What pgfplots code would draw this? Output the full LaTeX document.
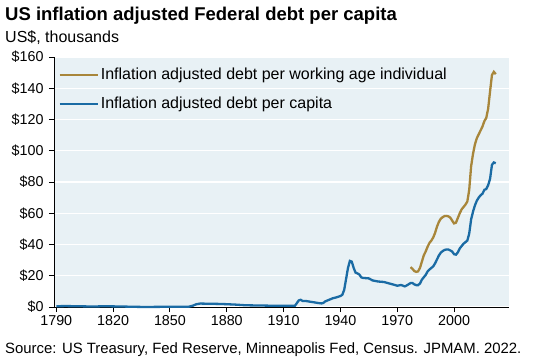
\documentclass[border=0pt]{standalone}
\usepackage{fontspec}
\setmainfont{Liberation Sans}
\usepackage{pgfplots}
\pgfplotsset{compat=1.18}
\definecolor{bgc}{HTML}{E8F1F5}
\definecolor{gold}{HTML}{A8863A}
\definecolor{blu}{HTML}{1A6BA4}
\begin{document}
\begin{tikzpicture}[x=1pt,y=1pt]
\begin{axis}[
  at={(0,0)}, anchor=origin,
  scale only axis, width=455pt, height=250pt,
  xmin=1788.8, xmax=2029, ymin=0, ymax=160,
  axis x line*=bottom, axis y line*=left,
  axis line style={black, line width=0.9pt},
  axis background/.style={fill=bgc},
  xtick={1790,1820,...,2000},
  ytick={0,20,...,160},
  yticklabel={\$\pgfmathprintnumber{\tick}},
  x tick label style={/pgf/number format/1000 sep={}},
  y tick label style={xshift=-2pt},
  /pgf/number format/assume math mode=true,
  tick label style={font=\fontsize{14.3}{16}\selectfont, text=black},
  tick align=outside, major tick length=5pt,
  tick style={black, line width=0.9pt},
  xtick pos=bottom, ytick pos=left,
  ymajorgrids, grid style={white, line width=1.2pt},
  clip=false,
  legend style={at={(0.003,0.972)}, anchor=north west, draw=none, fill=none,
    font=\fontsize{16}{18}\selectfont, row sep=12pt},
  legend cell align=left,
  legend image code/.code={\draw[#1] (0pt,0pt) -- (38pt,0pt);},
]
\addplot[gold, line width=2.3pt] coordinates {
(1977,25.5)(1978,24.5)(1979,23)(1980,22.5)(1981,22.8)(1982,25)(1983,29)(1984,33)
(1985,35.5)(1986,38.5)(1987,41)(1988,42.5)(1989,44.5)(1990,47.5)(1991,51.5)(1992,54.5)
(1993,56.5)(1994,57.5)(1995,58.2)(1996,58.3)(1997,58.0)(1998,57.2)(1999,55.3)(2000,53.5)
(2001,54)(2002,57)(2003,60)(2004,62.5)(2005,64)(2006,65.5)(2007,67.5)(2008,75)
(2009,90)(2010,98)(2011,104)(2012,108)(2013,110.5)(2014,113)(2015,115.5)(2016,119)
(2017,121)(2018,127)(2019,138)(2020,148.5)(2021,150.5)(2022,149)
};
\addlegendentry{Inflation adjusted debt per working age individual}
\addplot[blu, line width=2.3pt] coordinates {
(1790,0.5)(1795,0.6)(1800,0.5)(1805,0.4)(1810,0.3)(1815,0.5)(1820,0.4)(1825,0.3)
(1830,0.15)(1835,0.05)(1840,0.05)(1845,0.1)(1850,0.15)(1855,0.1)(1860,0.2)(1862,0.8)
(1864,1.8)(1866,2.2)(1870,2.1)(1875,2.0)(1880,1.8)(1885,1.5)(1890,1.1)(1895,1.0)
(1900,0.9)(1905,0.8)(1910,0.8)(1916,0.8)(1917,2.5)(1918,4.2)(1919,4.6)(1920,3.9)
(1922,3.8)(1925,3.2)(1928,2.6)(1930,2.3)(1931,2.6)(1932,3.6)(1934,4.6)(1936,5.6)
(1938,6.2)(1940,7.0)(1941,7.8)(1942,11.0)(1943,18.0)(1944,25.0)(1945,29.5)(1946,29.0)
(1947,25.0)(1948,22.0)(1949,21.5)(1950,20.8)(1951,19.0)(1952,18.6)(1953,18.5)(1955,18.3)
(1957,17.0)(1960,16.3)(1963,16.0)(1966,15.0)(1969,14.0)(1970,13.6)(1972,14.1)(1974,13.2)
(1975,13.8)(1977,15.3)(1978,15.4)(1979,14.5)(1980,14.0)(1981,14.0)(1982,15.0)(1983,17.5)
(1984,19.0)(1985,20.5)(1986,22.7)(1987,24.0)(1988,25.0)(1989,26.0)(1990,28.0)(1991,30.5)
(1992,33.0)(1993,34.8)(1994,35.8)(1995,36.5)(1996,36.8)(1997,36.8)(1998,36.2)(1999,35.5)
(2000,33.8)(2001,33.5)(2002,35.0)(2003,37.5)(2004,39.0)(2005,40.5)(2006,41.5)(2007,42.5)
(2008,47)(2009,56)(2010,61)(2011,65)(2012,68)(2013,70)(2014,71.5)(2015,72.5)
(2016,75)(2017,75.5)(2018,78)(2019,82)(2020,91)(2021,92.5)(2022,92)
};
\addlegendentry{Inflation adjusted debt per capita}
\end{axis}
\node[anchor=base west, inner sep=0pt, font=\fontsize{18.5}{21}\selectfont\bfseries] at (-49,286) {US inflation adjusted Federal debt per capita};
\node[anchor=base west, inner sep=0pt, font=\fontsize{16}{18}\selectfont] at (-49,264.5) {US\$, thousands};
\node[anchor=base west, inner sep=0pt, font=\fontsize{14.9}{17}\selectfont] at (-49,-46) {Source: US Treasury, Fed Reserve, Minneapolis Fed, Census. JPMAM. 2022.};
\pgfresetboundingbox
\useasboundingbox (-54,-52) rectangle (479,307);
\end{tikzpicture}
\end{document}
